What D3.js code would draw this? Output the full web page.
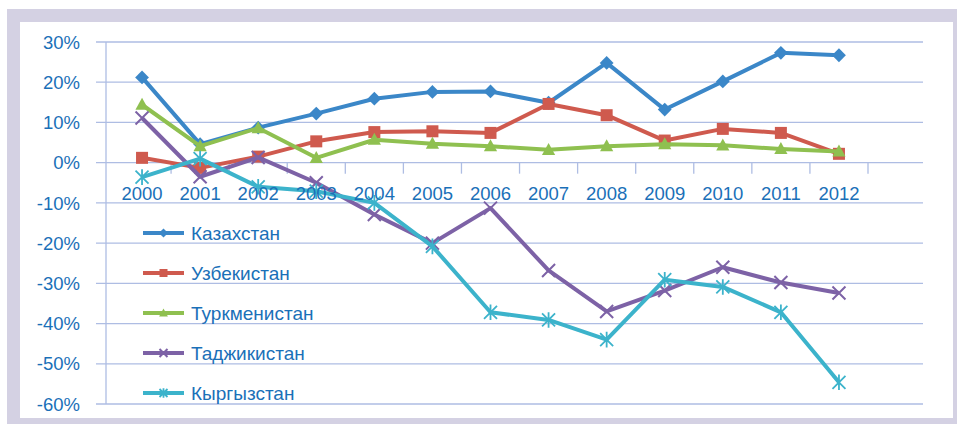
<!DOCTYPE html>
<html>
<head>
<meta charset="utf-8">
<script src="https://cdn.jsdelivr.net/npm/d3@7"></script>
<style>
  body { margin: 0; background: #fff; }
  text { font-family: "Liberation Sans", Arial, sans-serif; }
</style>
</head>
<body>
<svg id="chart" width="957" height="425"></svg>
<script>
const years = ["2000", "2001", "2002", "2003", "2004", "2005", "2006", "2007", "2008", "2009", "2010", "2011", "2012"];
const yTicks = [0.3, 0.2, 0.1, 0, -0.1, -0.2, -0.3, -0.4, -0.5, -0.6];

const kazakhstan   = [21.2, 4.6, 8.7, 12.2, 15.9, 17.6, 17.7, 14.9, 24.8, 13.2, 20.2, 27.3, 26.7];
const uzbekistan   = [1.2, -1.3, 1.5, 5.3, 7.6, 7.8, 7.4, 14.6, 11.8, 5.5, 8.4, 7.4, 2.2];
const turkmenistan = [14.4, 4.1, 8.6, 1.2, 5.7, 4.7, 4.1, 3.2, 4.1, 4.6, 4.3, 3.4, 2.8];
const tajikistan   = [11.1, -3.5, 1.3, -5.0, -12.9, -20.0, -11.3, -26.8, -37.0, -31.8, -26.0, -29.8, -32.4];
const kyrgyzstan   = [-3.6, 1.0, -6.0, -7.1, -10.0, -20.8, -37.2, -39.1, -44.0, -29.1, -30.9, -37.2, -54.6];

const seriesNames = ["Казахстан", "Узбекистан", "Туркменистан", "Таджикистан", "Кыргызстан"];
const seriesValues = [kazakhstan, uzbekistan, turkmenistan, tajikistan, kyrgyzstan];
const seriesColors = ["#3b87c8", "#cf5a4e", "#8fc050", "#7d62a6", "#3cb3cb"];
const seriesMarkers = ["diamond", "square", "triangle", "cross", "star"];

const textColor = "#1a70b8";
const gridColor = "#aebde3";

const svg = d3.select("#chart");

// frame
svg.append("rect").attr("x", 7).attr("y", 9).attr("width", 950).attr("height", 415).attr("fill", "#d4d1e3");
svg.append("rect").attr("x", 20).attr("y", 22).attr("width", 933).attr("height", 396).attr("fill", "#ffffff");

const x = d3.scaleBand().domain(years).range([113, 868]);
const y = d3.scaleLinear().domain([-0.6, 0.3]).range([404, 42]);

// gridlines
svg.append("g")
    .selectAll("line")
    .data(yTicks)
    .join("line")
    .attr("x1", 96)
    .attr("x2", 923)
    .attr("y1", d => y(d))
    .attr("y2", d => y(d))
    .attr("stroke", gridColor)
    .attr("stroke-width", 1.3);

// y axis line
svg.append("line")
    .attr("x1", 106).attr("x2", 106)
    .attr("y1", y(0.3)).attr("y2", y(-0.6))
    .attr("stroke", gridColor)
    .attr("stroke-width", 1.3);

// y labels (plain hyphen like the original)
svg.append("g")
    .selectAll("text")
    .data(yTicks)
    .join("text")
    .attr("x", 80)
    .attr("y", d => y(d))
    .attr("dy", "0.36em")
    .attr("text-anchor", "end")
    .attr("fill", textColor)
    .attr("font-size", 18.5)
    .text(d => Math.round(d * 100) + "%");

// x axis ticks on the zero line
svg.append("g")
    .selectAll("line")
    .data(years)
    .join("line")
    .attr("x1", (d, i) => x.range()[0] + x.step() * (i + 1))
    .attr("x2", (d, i) => x.range()[0] + x.step() * (i + 1))
    .attr("y1", y(0))
    .attr("y2", y(0) + 11)
    .attr("stroke", gridColor)
    .attr("stroke-width", 1.3);

const cx = d => x(d) + x.bandwidth() / 2;

// markers
function drawMarker(g, type, color, size) {
    const s = size / 2;
    if (type === "diamond") {
        g.append("path").attr("d", `M0,${-s * 1.15}L${s * 1.15},0L0,${s * 1.15}L${-s * 1.15},0Z`).attr("fill", color);
    } else if (type === "square") {
        g.append("rect").attr("x", -s).attr("y", -s).attr("width", size).attr("height", size).attr("fill", color);
    } else if (type === "triangle") {
        g.append("path").attr("d", `M0,${-s * 1.15}L${s * 1.1},${s * 0.85}L${-s * 1.1},${s * 0.85}Z`).attr("fill", color);
    } else if (type === "cross") {
        g.append("path").attr("d", `M${-s},${-s}L${s},${s}M${-s},${s}L${s},${-s}`)
            .attr("stroke", color).attr("stroke-width", 2);
    } else if (type === "star") {
        g.append("path").attr("d", `M${-s},${-s}L${s},${s}M${-s},${s}L${s},${-s}M0,${-s * 1.2}L0,${s * 1.2}`)
            .attr("stroke", color).attr("stroke-width", 1.8);
    }
}

const line = d3.line()
    .x((d, i) => cx(years[i]))
    .y(d => y(d / 100));

seriesValues.forEach((vals, k) => {
    const g = svg.append("g");
    g.append("path")
        .datum(vals)
        .attr("d", line)
        .attr("fill", "none")
        .attr("stroke", seriesColors[k])
        .attr("stroke-width", 4)
        .attr("stroke-linejoin", "round");

    g.selectAll("g.mk")
        .data(vals)
        .join("g")
        .attr("class", "mk")
        .attr("transform", (d, i) => `translate(${cx(years[i])},${y(d / 100)})`)
        .each(function () {
            drawMarker(d3.select(this), seriesMarkers[k], seriesColors[k], seriesMarkers[k] === "cross" || seriesMarkers[k] === "star" ? 13 : 12);
        });
});

// x labels
svg.append("g")
    .selectAll("text")
    .data(years)
    .join("text")
    .attr("x", d => cx(d))
    .attr("y", 200)
    .attr("text-anchor", "middle")
    .attr("fill", textColor)
    .attr("font-size", 18.5)
    .text(d => d);

// legend
const legend = svg.append("g")
    .selectAll("g")
    .data(seriesNames)
    .join("g")
    .attr("transform", (d, i) => `translate(143,${233 + i * 40})`);

legend.append("line")
    .attr("x1", 0).attr("x2", 41)
    .attr("stroke", (d, i) => seriesColors[i])
    .attr("stroke-width", 4);

legend.each(function (d, i) {
    const m = d3.select(this).append("g").attr("transform", "translate(20.5,0)");
    drawMarker(m, seriesMarkers[i], seriesColors[i], 8);
});

legend.append("text")
    .attr("x", 48)
    .attr("dy", "0.36em")
    .attr("fill", textColor)
    .attr("font-size", 19)
    .text(d => d);
</script>
</body>
</html>
